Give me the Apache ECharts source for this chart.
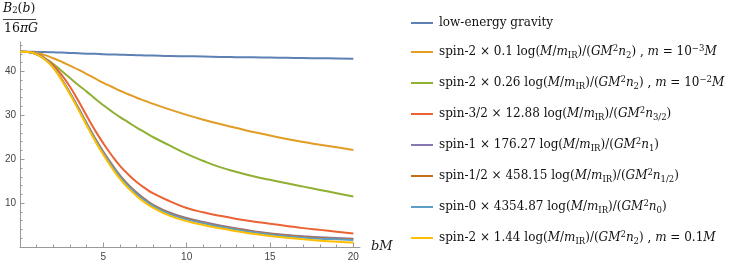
<!DOCTYPE html>
<html>
<head>
<meta charset="utf-8">
<script src="https://cdn.jsdelivr.net/npm/echarts@6/dist/echarts.min.js"></script>
<style>
html,body{margin:0;padding:0;background:#fff;}
#chart{width:747px;height:263px;}
</style>
</head>
<body>
<div id="chart"></div>
<script>
// ---- data ----
const bM = [0, 0.5, 1, 1.5, 2, 2.5, 3, 3.5, 4, 4.5, 5, 5.5, 6, 6.5, 7, 7.5, 8, 9, 10, 11, 12, 13, 14, 15, 16, 17, 18, 19, 20];

const lowEnergyGravity = [44.5, 44.5, 44.45, 44.4, 44.35, 44.3, 44.2, 44.15, 44.05, 44.0, 43.9, 43.85, 43.8, 43.75, 43.7, 43.65, 43.6, 43.5, 43.45, 43.4, 43.3, 43.25, 43.2, 43.15, 43.1, 43.05, 43.0, 42.95, 42.9];
const spin2m3 = [44.5, 44.45, 44.2, 43.7, 43.0, 42.2, 41.3, 40.4, 39.4, 38.4, 37.4, 36.5, 35.6, 34.8, 34.0, 33.3, 32.6, 31.3, 30.1, 29.0, 28.0, 27.1, 26.2, 25.4, 24.6, 23.9, 23.3, 22.7, 22.1];
const spin2m2 = [44.5, 44.4, 43.9, 43.0, 41.7, 40.1, 38.5, 36.9, 35.4, 33.8, 32.3, 30.9, 29.6, 28.4, 27.2, 26.1, 25.0, 23.1, 21.2, 19.6, 18.2, 17.1, 16.1, 15.3, 14.5, 13.75, 13.0, 12.25, 11.5];
const spin32 = [44.5, 44.4, 44.0, 43.0, 41.4, 39.2, 36.5, 33.3, 29.9, 26.6, 23.6, 20.9, 18.5, 16.5, 14.8, 13.4, 12.2, 10.4, 8.9, 7.9, 7.1, 6.4, 5.8, 5.3, 4.8, 4.3, 3.9, 3.5, 3.1];
const spin1 = [44.5, 44.4, 43.9, 42.8, 40.9, 38.2, 35.1, 31.7, 28.2, 24.8, 21.7, 18.9, 16.3, 14.2, 12.4, 10.9, 9.6, 7.8, 6.6, 5.7, 4.9, 4.2, 3.6, 3.1, 2.75, 2.45, 2.2, 2.05, 1.9];
const spin12 = [44.5, 44.4, 43.9, 42.8, 40.9, 38.15, 35.05, 31.6, 28.1, 24.65, 21.55, 18.75, 16.15, 14.05, 12.25, 10.75, 9.45, 7.65, 6.45, 5.55, 4.75, 4.1, 3.5, 3.0, 2.6, 2.3, 2.05, 1.9, 1.75];
const spin0 = [44.5, 44.4, 43.9, 42.8, 40.9, 38.1, 35.0, 31.5, 28.0, 24.5, 21.4, 18.6, 16.0, 13.9, 12.1, 10.6, 9.3, 7.5, 6.3, 5.4, 4.6, 3.95, 3.35, 2.85, 2.45, 2.15, 1.9, 1.75, 1.6];
const spin2m1 = [44.5, 44.4, 43.9, 42.7, 40.8, 38.0, 34.8, 31.3, 27.7, 24.2, 21.0, 18.1, 15.5, 13.4, 11.6, 10.1, 8.9, 7.1, 5.9, 5.0, 4.25, 3.6, 3.0, 2.5, 2.1, 1.75, 1.45, 1.2, 1.0];

const seriesNames = [
  'low-energy gravity',
  'spin-2 × 0.1 log(M/m_IR)/(GM^2 n_2) , m = 10^-3 M',
  'spin-2 × 0.26 log(M/m_IR)/(GM^2 n_2) , m = 10^-2 M',
  'spin-3/2 × 12.88 log(M/m_IR)/(GM^2 n_3/2)',
  'spin-1 × 176.27 log(M/m_IR)/(GM^2 n_1)',
  'spin-1/2 × 458.15 log(M/m_IR)/(GM^2 n_1/2)',
  'spin-0 × 4354.87 log(M/m_IR)/(GM^2 n_0)',
  'spin-2 × 1.44 log(M/m_IR)/(GM^2 n_2) , m = 0.1M'
];
const seriesValues = [lowEnergyGravity, spin2m3, spin2m2, spin32, spin1, spin12, spin0, spin2m1];
const colors = ['#5E81B5', '#E19C24', '#8FB032', '#EB6235', '#8778B3', '#C56E1A', '#5D9EC7', '#FFBF00'];

const xMajorTicks = [5, 10, 15, 20];
const xMinorTicks = [1, 2, 3, 4, 6, 7, 8, 9, 11, 12, 13, 14, 16, 17, 18, 19];
const yMajorTicks = [10, 20, 30, 40];
const yMinorTicks = [2, 4, 6, 8, 12, 14, 16, 18, 22, 24, 26, 28, 32, 34, 36, 38, 42, 44, 46];

// rich legend labels (math-style)
const tail = (coef, sub) => '{r|spin-' + coef + ' log(}{i|M}{r|/}{i|m}{s|IR}{r|)/(}{i|GM}{p|2}{i|n}{s|' + sub + '}{r|)}';
const legendRich = {};
legendRich[seriesNames[0]] = '{r|low-energy gravity}';
legendRich[seriesNames[1]] = tail('2 × 0.1', '2') + '{r| , }{i|m}{r| = 10}{p|−3}{i|M}';
legendRich[seriesNames[2]] = tail('2 × 0.26', '2') + '{r| , }{i|m}{r| = 10}{p|−2}{i|M}';
legendRich[seriesNames[3]] = tail('3/2 × 12.88', '3/2');
legendRich[seriesNames[4]] = tail('1 × 176.27', '1');
legendRich[seriesNames[5]] = tail('1/2 × 458.15', '1/2');
legendRich[seriesNames[6]] = tail('0 × 4354.87', '0');
legendRich[seriesNames[7]] = tail('2 × 1.44', '2') + '{r| , }{i|m}{r| = 0.1}{i|M}';

const SERIF = '"DejaVu Serif", "Liberation Serif", serif';
const FS = 12;
const SUBFS = 8.5;

const chart = echarts.init(document.getElementById('chart'), null, {renderer: 'canvas'});

const axisGray = '#999999';
const labelStyle = {color: '#444', fontSize: 10, fontFamily: '"Liberation Sans", Arial, sans-serif'};

const option = {
  animation: false,
  backgroundColor: '#fff',
  grid: {left: 20, top: 42, width: 340, height: 205, containLabel: false},
  xAxis: [
    {
      type: 'value', min: 0, max: 20.4,
      axisLine: {show: true, onZero: false, lineStyle: {color: axisGray, width: 1}},
      axisTick: {show: true, inside: true, length: 2.5, customValues: xMinorTicks, lineStyle: {color: axisGray}},
      axisLabel: {show: true, customValues: xMajorTicks, margin: 5, ...labelStyle},
      splitLine: {show: false},
      name: 'bM', nameLocation: 'end', nameGap: 11,
      nameTextStyle: {fontFamily: SERIF, fontStyle: 'italic', fontSize: 13, color: '#222', padding: [0, 0, 7, 0]}
    },
    {
      type: 'value', min: 0, max: 20.4, position: 'bottom',
      axisLine: {show: false},
      axisTick: {show: true, inside: true, length: 4.5, customValues: xMajorTicks, lineStyle: {color: axisGray}},
      axisLabel: {show: false},
      splitLine: {show: false}
    }
  ],
  yAxis: [
    {
      type: 'value', min: 0, max: 46.7,
      axisLine: {show: true, onZero: false, lineStyle: {color: axisGray, width: 1}},
      axisTick: {show: true, inside: true, length: 2.5, customValues: yMinorTicks, lineStyle: {color: axisGray}},
      axisLabel: {show: true, customValues: yMajorTicks, margin: 4, ...labelStyle},
      splitLine: {show: false}
    },
    {
      type: 'value', min: 0, max: 46.7, position: 'left',
      axisLine: {show: false},
      axisTick: {show: true, inside: true, length: 4.5, customValues: yMajorTicks, lineStyle: {color: axisGray}},
      axisLabel: {show: false},
      splitLine: {show: false}
    }
  ],
  legend: {
    orient: 'vertical',
    left: 406, top: 12,
    itemWidth: 22, itemHeight: 2, itemGap: 15,
    icon: 'rect',
    selectedMode: false,
    data: seriesNames,
    formatter: (name) => legendRich[name],
    textStyle: {
      padding: [0, 0, 0, 1],
      rich: {
        r: {fontFamily: SERIF, fontSize: FS, color: '#111', lineHeight: 16},
        i: {fontFamily: SERIF, fontStyle: 'italic', fontSize: FS, color: '#111', lineHeight: 16},
        s: {fontFamily: SERIF, fontSize: SUBFS, color: '#111', lineHeight: 9, verticalAlign: 'bottom'},
        p: {fontFamily: SERIF, fontSize: SUBFS, color: '#111', lineHeight: 9, verticalAlign: 'top'}
      }
    }
  },
  graphic: [
    {type: 'text', left: 3, top: 2, style: {
      rich: {
        b: {fontFamily: SERIF, fontStyle: 'italic', fontSize: 12.5, fill: '#111'},
        n: {fontFamily: SERIF, fontSize: 8.5, fill: '#111', verticalAlign: 'bottom', lineHeight: 8},
        u: {fontFamily: SERIF, fontSize: 12.5, fill: '#111'}
      },
      text: '{b|B}{n|2}{u|(}{b|b}{u|)}'
    }},
    {type: 'line', shape: {x1: 3, y1: 19.5, x2: 36, y2: 19.5}, style: {stroke: '#111', lineWidth: 0.8}},
    {type: 'text', left: 4, top: 22, style: {
      rich: {
        u: {fontFamily: SERIF, fontSize: 12.5, fill: '#111'},
        b: {fontFamily: SERIF, fontStyle: 'italic', fontSize: 12.5, fill: '#111'}
      },
      text: '{u|16}{b|πG}'
    }}
  ],
  series: seriesNames.map((name, k) => ({
    name: name,
    type: 'line',
    xAxisIndex: 0,
    yAxisIndex: 0,
    data: bM.map((x, i) => [x, seriesValues[k][i]]),
    smooth: 0.5,
    showSymbol: false,
    symbol: 'none',
    color: colors[k],
    lineStyle: {width: 2, color: colors[k]},
    z: 2 + k
  }))
};
chart.setOption(option);
</script>
</body>
</html>
